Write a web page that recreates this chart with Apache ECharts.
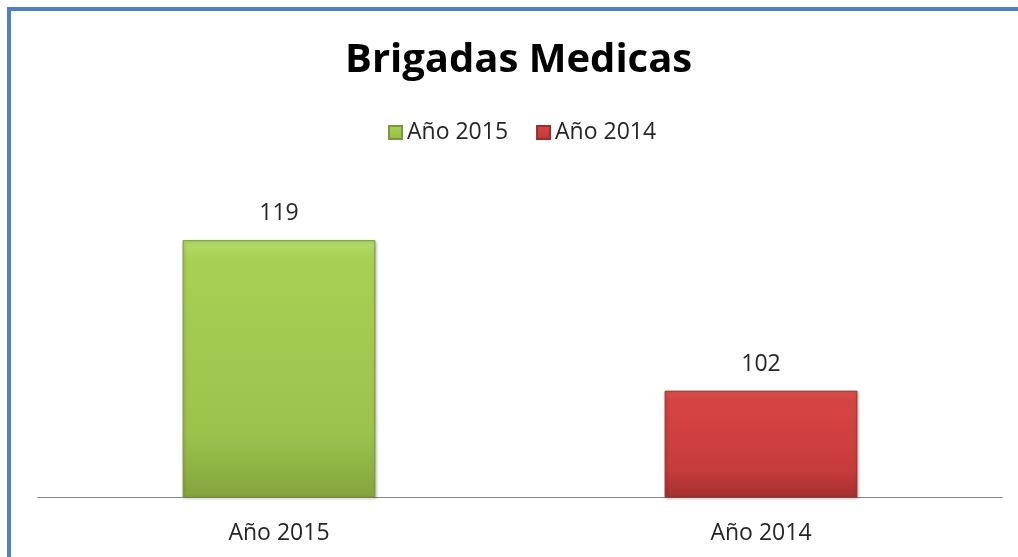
<!DOCTYPE html>
<html>
<head>
<meta charset="utf-8">
<script src="https://cdn.jsdelivr.net/npm/echarts@6/dist/echarts.min.js"></script>
<style>
  html, body { margin: 0; padding: 0; background: #fff; }
  #chart { width: 1018px; height: 557px; }
</style>
</head>
<body>
<div id="chart"></div>
<script>
const categories = ['Año 2015', 'Año 2014'];
const seriesNames = ['Año 2015', 'Año 2014'];
const values = [119, 102];

const colors = [
  { top: '#b4dc6c', mid: '#a7d054', low: '#9cc24c', bottom: '#84a53c', border: '#7a9a37' },
  { top: '#de5552', mid: '#d64543', low: '#c63c3b', bottom: '#a53030', border: '#963030' }
];

const font = '"Open Sans", "Noto Sans", sans-serif';

const dom = document.getElementById('chart');
const myChart = echarts.init(dom, null, { renderer: 'canvas' });

const series = seriesNames.map((name, i) => ({
  name: name,
  type: 'bar',
  stack: 'total',
  barWidth: '40%',
  data: values.map((v, j) => (j === i ? v : '-')),
  itemStyle: {
    color: new echarts.graphic.LinearGradient(0, 0, 0, 1, [
      { offset: 0, color: colors[i].top },
      { offset: 0.07, color: colors[i].mid },
      { offset: 0.75, color: colors[i].low },
      { offset: 1, color: colors[i].bottom }
    ]),
    borderColor: colors[i].border,
    borderWidth: 1,
    shadowColor: 'rgba(0,0,0,0.25)',
    shadowBlur: 3,
    shadowOffsetX: 1,
    shadowOffsetY: 1
  },
  label: {
    show: true,
    position: 'top',
    distance: 15,
    color: '#262626',
    fontFamily: font,
    fontSize: 23
  }
}));

const option = {
  animation: false,
  title: {
    text: 'Brigadas Medicas',
    left: 340,
    top: 36,
    textStyle: { fontFamily: font, fontWeight: 'bold', fontSize: 40, color: '#000' }
  },
  legend: {
    data: seriesNames,
    top: 116,
    left: 383,
    icon: 'rect',
    itemWidth: 13,
    itemHeight: 13,
    itemGap: 28,
    textStyle: { fontFamily: font, fontSize: 23, color: '#262626' }
  },
  grid: { left: 38, right: 16, top: 187, bottom: 60 },
  xAxis: {
    type: 'category',
    data: categories,
    axisLine: { lineStyle: { color: '#868686', width: 1 } },
    axisTick: { show: false },
    axisLabel: { margin: 25, color: '#262626', fontFamily: font, fontSize: 23 }
  },
  yAxis: {
    type: 'value',
    min: 90,
    max: 125,
    show: false,
    splitLine: { show: false }
  },
  graphic: [
    { type: 'rect', left: 7, top: 7, shape: { width: 1011, height: 4 }, style: { fill: '#4f81bd' } },
    { type: 'rect', left: 7, top: 7, shape: { width: 4, height: 550 }, style: { fill: '#4f81bd' } }
  ],
  series: series
};

myChart.setOption(option);
window.addEventListener('resize', myChart.resize);
</script>
</body>
</html>
